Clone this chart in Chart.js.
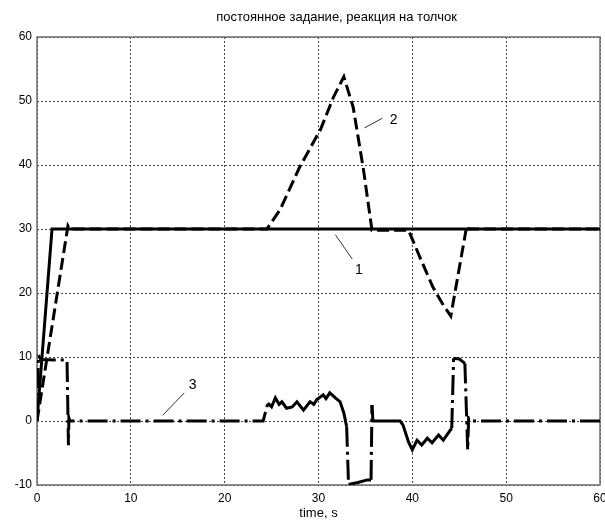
<!DOCTYPE html>
<html>
<head>
<meta charset="utf-8">
<script src="https://cdn.jsdelivr.net/npm/chart.js@4/dist/chart.umd.min.js"></script>
<style>
  body { margin: 0; background: #fff; }
  #wrap { width: 605px; height: 521px; }
</style>
</head>
<body>
<div id="wrap"><canvas id="signalChart" width="605" height="521"></canvas></div>
<script>
const titleText = 'постоянное задание, реакция на толчок';
const xLabel = 'time, s';

// curve 1 - setpoint (solid)
const t1 = [0, 1.6, 60];
const y1 = [0, 30, 30];

// curve 2 - response (dashed)
const t2 = [0, 3.3, 3.5, 24.5, 25.9, 28.0, 30.2, 31.6, 32.7, 33.7, 34.8, 35.7, 39.6, 40.8, 42.2, 43.3, 44.1, 45.1, 45.8, 46.0, 60];
const y2 = [0, 30.5, 30, 30, 33, 39.7, 45.5, 50.6, 53.8, 49, 39.2, 29.8, 29.8, 25.6, 20.9, 18.1, 16.4, 24.7, 30.5, 30, 30];

// curve 3 - control signal (dash-dot)
const t3 = [0, 0.15, 0.4, 3.2, 3.35, 3.4, 3.5, 24.1, 24.6, 25.0, 25.4, 25.8, 26.1, 26.6, 27.2, 27.7, 28.4, 29.1, 29.5, 29.8, 30.5, 30.8, 31.2, 31.8, 32.3, 32.7, 33.0, 33.2, 34.2, 35.2, 35.6, 35.7, 35.8, 36.0, 38.7, 39.0, 39.6, 40.0, 40.5, 41.0, 41.6, 42.1, 42.8, 43.3, 44.2, 44.4, 45.0, 45.6, 45.9, 46.0, 46.4, 60];
const y3 = [0, 10.3, 9.6, 9.5, -3.8, 0.5, 0, 0, 2.8, 2.2, 3.6, 2.6, 3.0, 2.0, 2.2, 3.0, 1.7, 3.0, 2.6, 3.3, 4.1, 3.5, 4.4, 3.6, 3.0, 1.25, -0.9, -9.9, -9.6, -9.2, -9.2, 2.5, 0, 0, 0, -0.6, -3.3, -4.5, -3.0, -3.75, -2.7, -3.4, -2.2, -3.0, -1.1, 9.8, 9.7, 9.0, -4.5, 0.5, 0, 0];
// time span where curve 3 wiggles and is drawn nearly solid
const noisySpan = [24.4, 45.7];

const xTicks = [0, 10, 20, 30, 40, 50, 60];
const yTicks = [-10, 0, 10, 20, 30, 40, 50, 60];

// curve labels with leader lines (data coords)
const labelText = ['1', '2', '3'];
const labelPos = [[34.3, 23.6], [38.0, 47.0], [16.6, 5.6]];
const leaderFrom = [[31.8, 29.1], [34.9, 45.8], [13.4, 0.9]];
const leaderTo = [[33.6, 25.3], [36.8, 47.3], [15.7, 4.4]];

const toPoints = (xs, ys) => xs.map((x, i) => ({ x: x, y: ys[i] }));

const framePlugin = {
  id: 'frame',
  beforeDatasetsDraw(chart) {
    const a = chart.chartArea;
    const ctx = chart.ctx;
    ctx.save();
    ctx.strokeStyle = '#6e6e6e';
    ctx.lineWidth = 1.5;
    ctx.strokeRect(a.left, a.top, a.right - a.left, a.bottom - a.top);
    ctx.restore();
  },
  afterDraw(chart) {
    const ctx = chart.ctx;
    const a = chart.chartArea;
    const xs = chart.scales.x, ys = chart.scales.y;
    ctx.save();
    ctx.fillStyle = '#000';
    ctx.font = '13px "Liberation Sans", Arial, sans-serif';
    ctx.textAlign = 'center';
    ctx.textBaseline = 'middle';
    ctx.fillText(titleText, (a.left + a.right) / 2 + 18, 17);
    ctx.fillText(xLabel, (a.left + a.right) / 2, 513);
    ctx.strokeStyle = '#333';
    ctx.lineWidth = 1;
    ctx.font = '14px "Liberation Sans", Arial, sans-serif';
    for (let i = 0; i < labelText.length; i++) {
      ctx.beginPath();
      ctx.moveTo(xs.getPixelForValue(leaderFrom[i][0]), ys.getPixelForValue(leaderFrom[i][1]));
      ctx.lineTo(xs.getPixelForValue(leaderTo[i][0]), ys.getPixelForValue(leaderTo[i][1]));
      ctx.stroke();
      ctx.fillText(labelText[i], xs.getPixelForValue(labelPos[i][0]), ys.getPixelForValue(labelPos[i][1]));
    }
    ctx.restore();
  }
};

const common = { showLine: true, pointRadius: 0, borderColor: '#000', borderWidth: 3, tension: 0, fill: false };
const tickFont = { family: '"Liberation Sans", Arial, sans-serif', size: 12 };

// wiggly stretches look solid, long moves keep the dash-dot pattern
function dashDot(ctx) {
  const x0 = ctx.p0.parsed.x, x1 = ctx.p1.parsed.x;
  const dy = Math.abs(ctx.p1.parsed.y - ctx.p0.parsed.y);
  if (x0 >= noisySpan[0] && x1 <= noisySpan[1] && dy < 3) return [];
  return [20, 5, 3, 5];
}

const chart = new Chart(document.getElementById('signalChart').getContext('2d'), {
  type: 'scatter',
  data: {
    datasets: [
      Object.assign({ label: '1', data: toPoints(t1, y1) }, common),
      Object.assign({ label: '2', data: toPoints(t2, y2), borderDash: [12, 5] }, common),
      Object.assign({ label: '3', data: toPoints(t3, y3), borderDash: [20, 5, 3, 5], segment: { borderDash: dashDot } }, common)
    ]
  },
  options: {
    responsive: false,
    animation: false,
    layout: { padding: { top: 37, right: 5, left: 0, bottom: 0 } },
    plugins: { legend: { display: false }, tooltip: { enabled: false }, title: { display: false } },
    scales: {
      x: {
        type: 'linear', min: 0, max: 60,
        afterBuildTicks: s => { s.ticks = xTicks.map(v => ({ value: v })); },
        afterFit: s => { s.height = 36; s.paddingRight = 0; s.paddingLeft = 0; },
        grid: { color: '#444', drawTicks: false, lineWidth: 1 },
        border: { display: false, dash: [2, 2] },
        ticks: { padding: 6, color: '#000', font: tickFont }
      },
      y: {
        type: 'linear', min: -10, max: 60,
        afterBuildTicks: s => { s.ticks = yTicks.map(v => ({ value: v })); },
        afterFit: s => { s.width = 37; s.paddingTop = 0; s.paddingBottom = 0; },
        grid: { color: '#444', drawTicks: false, lineWidth: 1 },
        border: { display: false, dash: [2, 2] },
        ticks: { padding: 5, color: '#000', font: tickFont }
      }
    }
  },
  plugins: [framePlugin]
});
</script>
</body>
</html>
